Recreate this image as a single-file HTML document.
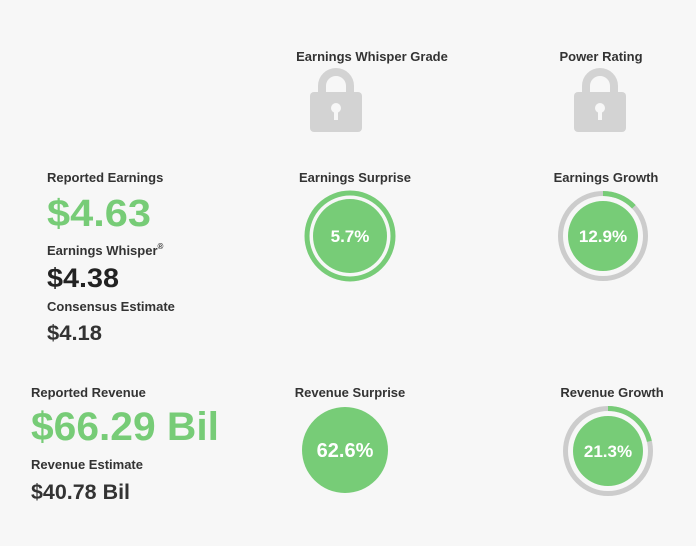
<!DOCTYPE html>
<html><head><meta charset="utf-8"><style>
html,body{margin:0;padding:0;background:#f7f7f7}
svg{display:block}
text{font-family:"Liberation Sans",sans-serif}
.lbl{font-size:13px;fill:#333;font-weight:bold}
</style></head><body>
<svg id="c" width="696" height="546" viewBox="0 0 696 546">
<rect width="696" height="546" fill="#f7f7f7"/>
<text class="lbl" x="372" y="61" text-anchor="middle">Earnings Whisper Grade</text>
<text class="lbl" x="601" y="61" text-anchor="middle">Power Rating</text>
<g fill="#d3d3d3">
<path d="M322,94 V86 A14,14 0 0 1 350,86 V94" fill="none" stroke="#d3d3d3" stroke-width="8"/>
<rect x="310" y="92" width="52" height="40" rx="4"/>
<circle cx="336" cy="108" r="5" fill="#f7f7f7"/><rect x="334" y="108" width="4" height="12" fill="#f7f7f7"/>
</g>
<g fill="#d3d3d3">
<path d="M586,94 V86 A14,14 0 0 1 614,86 V94" fill="none" stroke="#d3d3d3" stroke-width="8"/>
<rect x="574" y="92" width="52" height="40" rx="4"/>
<circle cx="600" cy="108" r="5" fill="#f7f7f7"/><rect x="598" y="108" width="4" height="12" fill="#f7f7f7"/>
</g>
<text class="lbl" x="47" y="182">Reported Earnings</text>
<text x="47" y="226" font-size="38" font-weight="bold" fill="#77cc77" textLength="104" lengthAdjust="spacingAndGlyphs">$4.63</text>
<text class="lbl" x="47" y="255">Earnings Whisper<tspan font-size="8" dy="-6">®</tspan></text>
<text x="47" y="287" font-size="27" font-weight="bold" fill="#222" textLength="72" lengthAdjust="spacingAndGlyphs">$4.38</text>
<text class="lbl" x="47" y="311">Consensus Estimate</text>
<text x="47" y="340" font-size="21" font-weight="bold" fill="#333" textLength="55" lengthAdjust="spacingAndGlyphs">$4.18</text>
<text class="lbl" x="31" y="397">Reported Revenue</text>
<text x="31" y="440" font-size="40" font-weight="bold" fill="#77cc77" textLength="188" lengthAdjust="spacingAndGlyphs">$66.29 Bil</text>
<text class="lbl" x="31" y="469">Revenue Estimate</text>
<text x="31" y="499" font-size="21" font-weight="bold" fill="#333" textLength="99" lengthAdjust="spacingAndGlyphs">$40.78 Bil</text>
<g id="gauges"></g>
</svg>
<script>
const gaugeNames=["earnings-surprise","earnings-growth","revenue-surprise","revenue-growth"];
const gaugeTitles=["Earnings Surprise","Earnings Growth","Revenue Surprise","Revenue Growth"];
const gaugeValues=[5.7,12.9,62.6,21.3];
const gaugeTypes=["surprise","growth","surprise-plain","growth"];
const layout=[{cx:350,cy:236,tx:355,ty:182},{cx:603,cy:236,tx:606,ty:182},{cx:345,cy:450,tx:350,ty:397},{cx:608,cy:451,tx:612,ty:397}];
const NS="http://www.w3.org/2000/svg";
const g=document.getElementById('gauges');
function mk(t,a,p){const e=document.createElementNS(NS,t);for(const k in a)e.setAttribute(k,a[k]);(p||g).appendChild(e);return e;}
gaugeValues.forEach((v,i)=>{
  const L=layout[i],type=gaugeTypes[i];
  const grp=mk('g',{});
  
  
  const t=mk('text',{x:L.tx,y:L.ty,'text-anchor':'middle',class:'lbl'},grp);
  
  
  t.textContent=gaugeTitles[i];
  let dr=35,fs=17;
  if(type==='surprise'){
    const ring=mk('circle',{cx:L.cx,cy:L.cy,r:43,fill:'none',stroke:'#77cc77','stroke-width':5},grp);
    
    
    dr=37;
  }else if(type==='growth'){
    const R=42.5;
    const bg=mk('circle',{cx:L.cx,cy:L.cy,r:R,fill:'none',stroke:'#cccccc','stroke-width':5},grp);
    
    
    const C=2*Math.PI*R,f=Math.min(Math.abs(v),100)/100;
    const arc=mk('circle',{cx:L.cx,cy:L.cy,r:R,fill:'none',stroke:'#77cc77','stroke-width':5,'stroke-dasharray':(C*f)+' '+C,transform:'rotate(-90 '+L.cx+' '+L.cy+')'},grp);
    
    
  }else{dr=43;fs=20;}
  const d=mk('circle',{cx:L.cx,cy:L.cy,r:dr,fill:'#77cc77'},grp);
  
  
  const vt=mk('text',{x:L.cx,y:L.cy+fs*0.36,'text-anchor':'middle','font-size':fs,'font-weight':'bold',fill:'#ffffff'},grp);
  
  
  vt.textContent=v.toFixed(1)+'%';
});
</script>
</body></html>
